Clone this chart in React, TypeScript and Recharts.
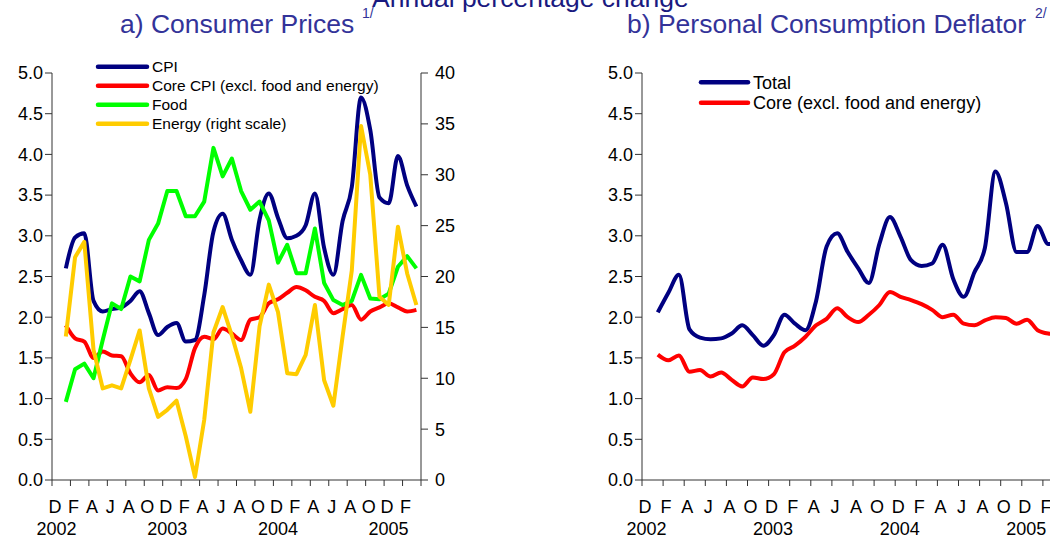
import React from "react";
import { LineChart, Line, XAxis, YAxis } from "recharts";

// monthly, first point sits half a month after the first tick
const cpi = [2.6, 2.98, 3.03, 2.2, 2.07, 2.1, 2.12, 2.2, 2.32, 2.05, 1.78, 1.88, 1.93, 1.7, 1.72, 2.27, 3.05, 3.27, 2.95, 2.7, 2.52, 3.2, 3.52, 3.22, 2.97, 3.0, 3.13, 3.52, 2.85, 2.52, 3.18, 3.6, 4.7, 4.3, 3.47, 3.4, 3.98, 3.62, 3.36];
const coreCpi = [1.9, 1.74, 1.7, 1.5, 1.58, 1.53, 1.52, 1.31, 1.2, 1.29, 1.1, 1.14, 1.13, 1.24, 1.62, 1.76, 1.73, 1.86, 1.8, 1.72, 1.97, 2.0, 2.17, 2.22, 2.3, 2.37, 2.33, 2.25, 2.2, 2.05, 2.1, 2.15, 1.97, 2.07, 2.12, 2.17, 2.12, 2.07, 2.09];
const food = [0.96, 1.36, 1.43, 1.25, 1.72, 2.17, 2.1, 2.5, 2.44, 2.95, 3.15, 3.55, 3.55, 3.24, 3.24, 3.42, 4.08, 3.73, 3.95, 3.55, 3.32, 3.42, 3.19, 2.67, 2.89, 2.54, 2.54, 3.09, 2.42, 2.21, 2.15, 2.2, 2.52, 2.23, 2.22, 2.29, 2.62, 2.75, 2.6];
const energy = [14.1, 21.9, 23.4, 12.8, 9.0, 9.3, 9.0, 11.8, 14.7, 9.0, 6.2, 6.9, 7.8, 4.3, 0.3, 5.9, 14.5, 17.0, 14.2, 11.0, 6.7, 15.1, 19.2, 16.5, 10.5, 10.4, 12.3, 17.2, 9.8, 7.3, 14.1, 20.6, 34.8, 30.0, 18.0, 17.2, 24.9, 20.3, 17.2];

const pceTotal = [2.06, 2.3, 2.52, 1.85, 1.75, 1.73, 1.74, 1.8, 1.9, 1.78, 1.65, 1.78, 2.03, 1.92, 1.84, 2.2, 2.87, 3.03, 2.8, 2.6, 2.42, 2.9, 3.23, 2.99, 2.7, 2.63, 2.66, 2.89, 2.47, 2.25, 2.55, 2.85, 3.79, 3.4, 2.8, 2.8, 3.12, 2.9, 2.9];
const pceCore = [1.54, 1.47, 1.53, 1.33, 1.35, 1.27, 1.32, 1.23, 1.15, 1.26, 1.24, 1.3, 1.57, 1.65, 1.76, 1.9, 1.98, 2.11, 2.0, 1.94, 2.03, 2.15, 2.31, 2.25, 2.21, 2.16, 2.09, 2.0, 2.03, 1.92, 1.9, 1.96, 2.0, 1.99, 1.92, 1.97, 1.84, 1.8, 1.79];

const monthTicks = ["D", "F", "A", "J", "A", "O", "D", "F", "A", "J", "A", "O", "D", "F", "A", "J", "A", "O", "D", "F"];
const yearTicks = ["2002", "2003", "2004", "2005"];
const leftTicks = [0, 0.5, 1, 1.5, 2, 2.5, 3, 3.5, 4, 4.5, 5];
const rightTicks = [0, 5, 10, 15, 20, 25, 30, 35, 40];
const xTicks = Array.from({ length: 21 }, (_, i) => i * 2);

const FONT = "'Liberation Sans', Arial, sans-serif";
const AXIS = "#333";

const cpiData = cpi.map((v, i) => ({
  t: i + 1.5,
  cpi: v,
  core: coreCpi[i],
  food: food[i],
  energy: energy[i],
}));

const pceData = pceTotal.map((v, i) => ({ t: i + 1.5, total: v, core: pceCore[i] }));

const cpiSeries = [
  { key: "cpi", name: "CPI", color: "#000080", axis: "left", curve: "monotone" },
  { key: "core", name: "Core CPI (excl. food and energy)", color: "#ff0000", axis: "left", curve: "monotone" },
  { key: "food", name: "Food", color: "#00ff00", axis: "left", curve: "linear" },
  { key: "energy", name: "Energy (right scale)", color: "#ffcc00", axis: "right", curve: "linear" },
];

const pceSeries = [
  { key: "total", name: "Total", color: "#000080", curve: "monotone" },
  { key: "core", name: "Core (excl. food and energy)", color: "#ff0000", curve: "monotone" },
];

const MonthTick = (props: any) => {
  const { x, y, payload } = props;
  const i = Math.round(payload.value / 2);
  const label = monthTicks[i];
  const year = i % 6 === 0 ? yearTicks[i / 6] : undefined;
  return (
    <g>
      {label && (
        <text x={x + 3} y={y + 25} textAnchor="middle" fontSize={18} fill="#000" fontFamily={FONT}>
          {label}
        </text>
      )}
      {year && (
        <text x={x + 4.5} y={y + 46.5} textAnchor="middle" fontSize={18} fill="#000" fontFamily={FONT}>
          {year}
        </text>
      )}
    </g>
  );
};

const tickStyle = { fontSize: 18, fill: "#000", fontFamily: FONT };

export default function App() {
  return (
    <div
      style={{
        position: "absolute",
        left: 0,
        top: 0,
        width: 1050,
        height: 539,
        overflow: "hidden",
        background: "#fff",
        fontFamily: FONT,
      }}
    >
      {/* a) consumer prices */}
      <div style={{ position: "absolute", left: 0, top: 0 }}>
        <LineChart width={470} height={539} data={cpiData} margin={{ top: 73, right: 9, bottom: 9, left: 7 }}>
          <XAxis
            dataKey="t"
            type="number"
            domain={[0, 40]}
            ticks={xTicks}
            interval={0}
            height={50}
            tick={<MonthTick />}
            tickSize={6}
            stroke={AXIS}
          />
          <YAxis
            yAxisId="left"
            domain={[0, 5]}
            ticks={leftTicks}
            width={45}
            tickSize={7}
            tickFormatter={(v: number) => v.toFixed(1)}
            tick={tickStyle}
            stroke={AXIS}
          />
          <YAxis
            yAxisId="right"
            orientation="right"
            domain={[0, 40]}
            ticks={rightTicks}
            width={40}
            tickSize={7}
            tickMargin={7}
            tick={tickStyle}
            stroke={AXIS}
          />
          {cpiSeries.map((s) => (
            <Line
              key={s.key}
              yAxisId={s.axis}
              dataKey={s.key}
              name={s.name}
              type={s.curve as any}
              stroke={s.color}
              strokeWidth={4}
              strokeLinejoin="round"
              dot={false}
              isAnimationActive={false}
            />
          ))}
        </LineChart>
      </div>

      {/* b) personal consumption deflator, cut at the page edge */}
      <div style={{ position: "absolute", left: 580, top: 0 }}>
        <LineChart width={489} height={539} data={pceData} margin={{ top: 73, right: 5, bottom: 9, left: 17 }}>
          <XAxis
            dataKey="t"
            type="number"
            domain={[0, 40]}
            ticks={xTicks}
            interval={0}
            height={50}
            tick={<MonthTick />}
            tickSize={6}
            stroke={AXIS}
          />
          <YAxis
            domain={[0, 5]}
            ticks={leftTicks}
            width={45}
            tickSize={7}
            tickFormatter={(v: number) => v.toFixed(1)}
            tick={tickStyle}
            stroke={AXIS}
          />
          {pceSeries.map((s) => (
            <Line
              key={s.key}
              dataKey={s.key}
              name={s.name}
              type={s.curve as any}
              stroke={s.color}
              strokeWidth={4}
              strokeLinejoin="round"
              dot={false}
              isAnimationActive={false}
            />
          ))}
        </LineChart>
      </div>

      {/* titles and legends */}
      <svg width={1050} height={539} style={{ position: "absolute", left: 0, top: 0, pointerEvents: "none" }}>
        <text x={372} y={7} fontSize={26.5} fill="#1a1a80" fontFamily={FONT}>
          Annual percentage change
        </text>
        <text x={120} y={33} fontSize={26.5} fill="#333399" fontFamily={FONT}>
          a) Consumer Prices
        </text>
        <text x={362} y={18} fontSize={14} fill="#333399" fontFamily={FONT}>
          1/
        </text>
        <text x={627} y={33} fontSize={26.5} fill="#333399" fontFamily={FONT}>
          b) Personal Consumption Deflator
        </text>
        <text x={1035} y={18} fontSize={14} fill="#333399" fontFamily={FONT}>
          2/
        </text>

        {cpiSeries.map((s, i) => {
          const y = 66.7 + i * 19;
          return (
            <g key={s.key}>
              <line x1={98} x2={147} y1={y} y2={y} stroke={s.color} strokeWidth={4.5} strokeLinecap="round" />
              <text x={152} y={y + 5.5} fontSize={15.5} fill="#000" fontFamily={FONT}>
                {s.name}
              </text>
            </g>
          );
        })}

        {pceSeries.map((s, i) => {
          const y = 82.3 + i * 20.4;
          return (
            <g key={s.key}>
              <line x1={701} x2={748} y1={y} y2={y} stroke={s.color} strokeWidth={4.5} strokeLinecap="round" />
              <text x={753} y={y + 6.5} fontSize={18} fill="#000" fontFamily={FONT}>
                {s.name}
              </text>
            </g>
          );
        })}
      </svg>
    </div>
  );
}
